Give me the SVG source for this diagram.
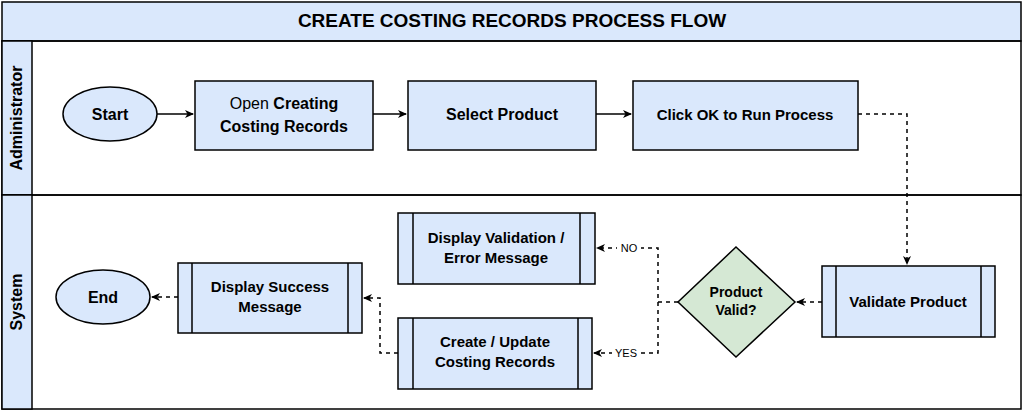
<svg xmlns="http://www.w3.org/2000/svg" width="1024" height="411" viewBox="0 0 1024 411">
<style>
.b{fill:#dae8fc;stroke:#000;stroke-width:1.5}
.l{fill:none;stroke:#000;stroke-width:1.5}
.t{font-family:"Liberation Sans",Arial,sans-serif;font-size:16px;font-weight:bold;text-anchor:middle;fill:#000}
.c{fill:none;stroke:#000;stroke-width:1.5}
.d{stroke-dasharray:4 4}
.s{font-family:"Liberation Sans",Arial,sans-serif;font-size:11px;text-anchor:middle;fill:#000}
</style>
<defs><marker id="a" markerWidth="10" markerHeight="10" refX="8" refY="5" orient="auto" markerUnits="userSpaceOnUse"><path d="M0,1 L9,5 L0,9 L2.5,5z" fill="#000"/></marker></defs>
<rect width="1024" height="411" fill="#fff"/>
<g id="title"><rect class="b" x="2" y="2" width="1019" height="39"/><text class="t" x="512" y="27" font-size="19" style="font-size:19px">CREATE COSTING RECORDS PROCESS FLOW</text></g>
<g id="lane-admin"><rect class="l" x="2" y="41" width="1019" height="154"/><rect class="b" x="2" y="41" width="30" height="154"/><text class="t" transform="translate(22,118) rotate(-90)">Administrator</text></g>
<g id="lane-system"><rect class="l" x="2" y="195" width="1019" height="214"/><rect class="b" x="2" y="195" width="30" height="214"/><text class="t" transform="translate(22,302) rotate(-90)">System</text></g>
<g id="start"><ellipse class="b" cx="110" cy="114" rx="47" ry="27"/><text class="t" x="110" y="120">Start</text></g>
<g id="open"><rect class="b" x="195" y="81" width="178" height="69"/><text class="t" x="284" y="109"><tspan font-weight="normal">Open </tspan>Creating</text><text class="t" x="284" y="132">Costing Records</text></g>
<g id="select"><rect class="b" x="408" y="81" width="188" height="69"/><text class="t" x="502" y="120">Select Product</text></g>
<g id="click"><rect class="b" x="633" y="81" width="225" height="69"/><text class="t" x="745" y="120" style="font-size:15px">Click OK to Run Process</text></g>
<g id="validate"><rect class="b" x="822" y="266" width="173" height="71"/><line class="l" x1="836" y1="266" x2="836" y2="337"/><line class="l" x1="981" y1="266" x2="981" y2="337"/><text class="t" x="908" y="307" style="font-size:15px">Validate Product</text></g>
<g id="decision"><polygon points="736,247 795,302 736,357 678,302" fill="#d5e8d4" stroke="#000" stroke-width="1.5"/><text class="t" x="736" y="297" style="font-size:14px">Product</text><text class="t" x="736" y="315" style="font-size:14px">Valid?</text></g>
<g id="error"><rect class="b" x="398" y="213" width="197" height="71"/><line class="l" x1="413" y1="213" x2="413" y2="284"/><line class="l" x1="580" y1="213" x2="580" y2="284"/><text class="t" x="496" y="243" style="font-size:15px">Display Validation /</text><text class="t" x="496" y="263" style="font-size:15px">Error Message</text></g>
<g id="create"><rect class="b" x="398" y="318" width="194" height="71"/><line class="l" x1="413" y1="318" x2="413" y2="389"/><line class="l" x1="578" y1="318" x2="578" y2="389"/><text class="t" x="495" y="347" style="font-size:15px">Create / Update</text><text class="t" x="495" y="367" style="font-size:15px">Costing Records</text></g>
<g id="success"><rect class="b" x="178" y="263" width="184" height="70"/><line class="l" x1="192" y1="263" x2="192" y2="333"/><line class="l" x1="348" y1="263" x2="348" y2="333"/><text class="t" x="270" y="292" style="font-size:15px">Display Success</text><text class="t" x="270" y="312" style="font-size:15px">Message</text></g>
<g id="end"><ellipse class="b" cx="103" cy="297" rx="47" ry="27"/><text class="t" x="103" y="303">End</text></g>
<g id="connectors">
<line class="c" x1="157" y1="114" x2="193" y2="114" marker-end="url(#a)"/>
<line class="c" x1="373" y1="114" x2="406" y2="114" marker-end="url(#a)"/>
<line class="c" x1="596" y1="114" x2="631" y2="114" marker-end="url(#a)"/>
<path class="c d" d="M858,114 H907 V264" marker-end="url(#a)"/>
<line class="c d" x1="822" y1="302" x2="797" y2="302" marker-end="url(#a)"/>
<path class="c d" d="M678,302 H658 V248 H597" marker-end="url(#a)"/>
<path class="c d" d="M658,302 V353 H594" marker-end="url(#a)"/>
<path class="c d" d="M398,353 H380 V298 H364" marker-end="url(#a)"/>
<line class="c d" x1="178" y1="297" x2="152" y2="297" marker-end="url(#a)"/>
<rect x="617" y="241" width="24" height="14" fill="#fff"/><text class="s" x="629" y="252">NO</text>
<rect x="612" y="346" width="28" height="14" fill="#fff"/><text class="s" x="626" y="357">YES</text>
</g>
</svg>
